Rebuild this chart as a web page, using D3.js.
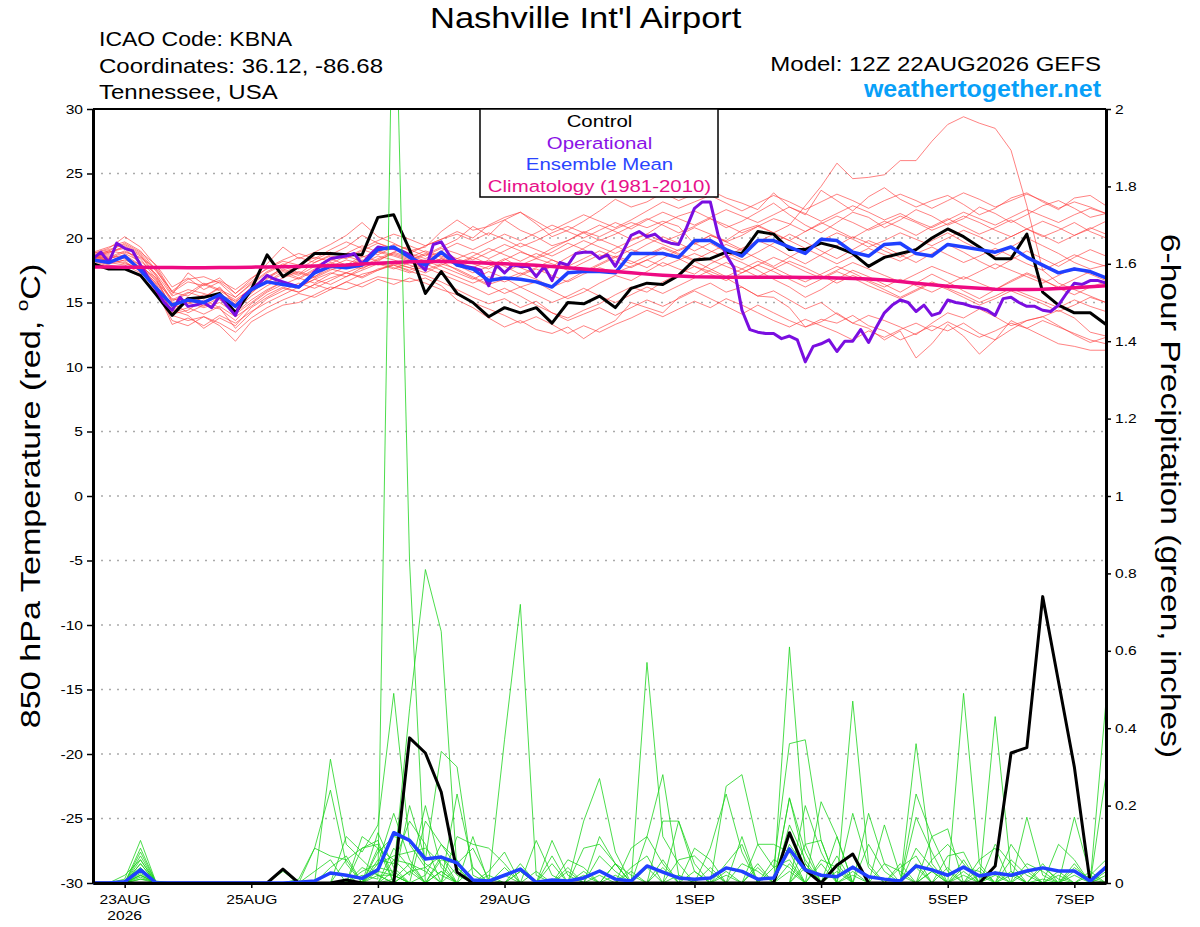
<!DOCTYPE html>
<html lang="en">
<head>
<meta charset="utf-8" />
<title>Nashville Int'l Airport - GEFS</title>
<script src="https://cdn.jsdelivr.net/npm/d3@7"></script>
<style>
  body { margin: 0; background: #fff; }
  svg { display: block; font-family: "Liberation Sans", Arial, Helvetica, sans-serif; }
  .member-t { fill: none; stroke: #ff3b3b; stroke-width: 0.8px; stroke-opacity: 0.8; stroke-linejoin: round; }
  .member-p { fill: none; stroke: #1ed41e; stroke-width: 0.8px; stroke-linejoin: round; }
  .control-line { fill: none; stroke: #000; stroke-width: 3px; stroke-linejoin: round; }
  .oper-line { fill: none; stroke: #7a0ee0; stroke-width: 3px; stroke-linejoin: round; }
  .mean-line { fill: none; stroke: #2040ff; stroke-width: 3.5px; stroke-linejoin: round; }
  .clim-line { fill: none; stroke: #ee0a82; stroke-width: 3.5px; stroke-linejoin: round; }
  .grid-line { stroke: #aaa; stroke-width: 1.3px; stroke-dasharray: 2, 6; }
</style>
</head>
<body>
<script>
// ---- data ----
// tick labels
var tempTicks = [-30, -25, -20, -15, -10, -5, 0, 5, 10, 15, 20, 25, 30];
var precipTicks = [0, 0.2, 0.4, 0.6, 0.8, 1, 1.2, 1.4, 1.6, 1.8, 2];
var tickDays = ["2026-08-23", "2026-08-25", "2026-08-27", "2026-08-29",
  "2026-09-01", "2026-09-03", "2026-09-05", "2026-09-07"];
var tickLabels = ["23AUG", "25AUG", "27AUG", "29AUG", "1SEP", "3SEP", "5SEP", "7SEP"];
var legendItems = ["Control", "Operational", "Ensemble Mean", "Climatology (1981-2010)"];

// 6-hourly control, 850 hPa temperature (C)
var controlTemp = [18.0, 17.6, 17.6, 17.1, 15.6, 14.0, 15.3, 15.4, 15.7, 14.2,
  16.0, 18.7, 17.0, 17.8, 18.8, 18.8, 18.7, 18.7, 21.6, 21.8,
  19.1, 15.7, 17.4, 15.7, 15.0, 13.9, 14.6, 14.2, 14.6, 13.4,
  15.0, 14.9, 15.5, 14.6, 16.1, 16.5, 16.4, 17.1, 18.3, 18.4,
  18.9, 18.8, 20.5, 20.3, 19.1, 19.1, 19.6, 19.3, 18.8, 17.8,
  18.5, 18.8, 19.1, 20.0, 20.7, 20.1, 19.3, 18.4, 18.4, 20.3,
  15.8, 14.8, 14.2, 14.2, 13.3];

// 6-hourly ensemble mean temperature
var meanTemp = [18.3, 18.1, 18.6, 17.5, 16.1, 14.8, 15.2, 15.0, 15.6, 14.7,
  16.0, 16.6, 16.4, 16.2, 17.3, 17.8, 17.7, 17.9, 19.1, 19.3,
  18.5, 17.9, 18.9, 17.9, 17.6, 16.7, 16.9, 16.8, 16.6, 16.2,
  17.3, 17.4, 17.4, 17.3, 18.8, 18.8, 18.8, 18.5, 19.8, 19.8,
  19.1, 18.6, 19.8, 19.8, 19.3, 18.8, 19.9, 19.8, 18.9, 18.6,
  19.5, 19.6, 18.8, 18.6, 19.5, 19.3, 19.1, 18.9, 19.3, 18.5,
  17.9, 17.3, 17.6, 17.4, 16.9];

// 6-hourly climatology
var climTemp = [17.75, 17.75, 17.74, 17.73, 17.72, 17.71, 17.7, 17.7, 17.71, 17.72,
  17.74, 17.76, 17.78, 17.8, 17.82, 17.85, 17.9, 17.98, 18.05, 18.1,
  18.15, 18.18, 18.18, 18.15, 18.1, 18.05, 18.0, 17.95, 17.88, 17.8,
  17.7, 17.6, 17.5, 17.4, 17.3, 17.2, 17.12, 17.05, 17.0, 16.98,
  16.96, 16.95, 16.95, 16.95, 16.95, 16.94, 16.93, 16.9, 16.87, 16.83,
  16.75, 16.62, 16.5, 16.38, 16.26, 16.18, 16.1, 16.03, 16.0, 16.0,
  16.02, 16.08, 16.15, 16.22, 16.3];

// 3-hourly operational temperature
var operTemp = [18.4, 18.9, 18.1, 19.6, 19.2, 19.0, 17.9, 16.9, 16.0, 15.0,
  14.4, 15.4, 14.7, 14.8, 15.0, 14.6, 15.5, 14.7, 14.0, 15.5,
  16.0, 16.5, 17.1, 16.8, 16.6, 16.4, 16.2, 16.7, 17.4, 18.0,
  18.4, 18.5, 18.6, 18.8, 18.0, 18.7, 19.3, 19.2, 19.2, 19.0,
  18.7, 18.1, 17.5, 19.5, 19.7, 18.7, 18.1, 17.8, 17.7, 17.5,
  16.3, 17.9, 17.3, 17.9, 17.8, 17.8, 17.0, 17.8, 16.7, 18.1,
  17.9, 18.8, 18.9, 18.9, 18.4, 18.7, 17.8, 19.0, 20.2, 20.5,
  20.1, 20.3, 19.8, 19.6, 19.5, 20.8, 22.3, 22.8, 22.8, 20.2,
  18.7, 17.7, 14.4, 12.9, 12.7, 12.6, 12.6, 12.2, 12.4, 12.1,
  10.4, 11.6, 11.8, 12.1, 11.2, 12.0, 12.0, 12.9, 11.9, 13.1,
  14.2, 14.8, 15.2, 15.0, 14.3, 14.8, 14.0, 14.2, 15.2, 15.0,
  14.9, 14.7, 14.6, 14.4, 14.0, 15.3, 15.4, 15.0, 14.7, 14.7,
  14.4, 14.3, 14.8, 15.7, 16.5, 16.4, 16.7, 16.7, 16.5];

// 6-hourly ensemble members, temperature
var memberTemp = [
  [18.6,18.9,19.3,18.6,17.0, 15.2,15.8,15.4,16.1,15.0,16.2, 17.0,17.6,17.2,18.1,18.6,18.4,19.0,19.6,19.2,18.7,18.2,18.9,
   18.4,18.0,17.6,18.3,18.9,18.5,19.2,19.8,20.5,20.1,20.7,21.2,20.8,21.3,20.9, 19.5,20.2,19.8,20.6,21.0,20.4,21.0,22.5,24.0,25.8,24.6,24.7,24.9,
   26.0,26.0,27.5,28.8,29.4,28.9,28.5,26.8,22.5,17.5,16.5,16.0,15.5,15.0],
  [18.8,19.2,20.1,19.3,17.8, 15.8,16.6,16.3,16.9,15.7,16.8, 18.0,19.3,18.4,18.9,19.5,20.2,21.2,20.1,19.6,19.0,19.3,20.5,
   21.4,20.6,20.9,21.4,22.0,21.1,20.1,20.6,21.3,22.1,23.0,22.4,22.8,23.5,22.9, 23.4,23.7,23.1,22.7,22.2,23.5,22.4,21.8,23.7,22.9,22.1,23.2,23.9,
   23.0,22.4,22.9,23.3,22.6,21.8,22.3,23.1,23.5,22.8,22.2,23.1,23.3,22.5],
  [18.2,17.8,17.6,17.0,15.8, 14.0,13.6,13.9,13.2,12.0,13.5, 14.2,14.8,15.0,15.6,16.2,16.0,16.5,17.0,16.8,16.6,16.9,16.3,
   15.2,14.6,13.8,13.1,13.6,12.9,12.6,13.1,12.2,13.0,13.6,15.0,14.6,14.2,15.4, 16.0,16.5,15.8,16.2,15.5,15.4,14.6,13.1,13.5,14.2,13.4,13.0,12.1,
   12.8,10.7,11.8,13.3,12.4,11.0,12.1,13.6,13.0,12.4,11.8,11.6,11.3,11.3],
  [18.4,18.1,17.9,17.3,16.2, 14.4,14.0,13.0,13.8,13.2,14.6, 15.4,16.1,15.8,16.4,16.9,17.3,17.0,17.6,17.9,17.4,17.1,16.6,
   16.0,15.4,14.9,15.3,14.6,15.1,14.2,13.8,14.4,14.9,15.6,16.2,15.8,16.6,17.2, 17.8,17.4,16.9,16.2,15.5,15.9,15.2,14.5,15.0,14.1,13.4,14.0,13.6,
   13.1,12.5,13.4,14.2,13.8,14.5,13.9,13.2,13.6,13.9,14.4,13.8,12.7,12.4],
  [18.9,19.3,19.7,19.0,17.5, 15.6,17.3,16.4,16.7,16.0,16.9, 17.6,18.2,17.9,18.5,18.2,18.8,19.4,18.9,18.6,18.2,18.7,19.3,
   19.9,20.9,20.2,21.4,20.6,20.1,19.4,19.8,20.4,21.0,20.5,19.9,20.3,21.1,21.7, 22.1,21.5,20.8,21.3,22.0,22.7,21.8,21.0,20.4,21.2,22.0,21.6,20.8,
   21.4,22.2,21.7,21.0,21.5,22.4,21.9,21.2,21.8,22.5,22.9,22.3,21.6,21.9],
  [18.5,18.7,18.4,17.6,16.5, 14.8,15.1,15.6,15.2,14.4,15.5, 16.3,16.9,17.4,17.0,17.8,18.3,18.0,18.6,18.3,17.9,17.5,18.0,
   17.6,17.0,16.4,16.8,17.3,16.8,16.2,16.7,17.4,18.0,18.6,18.2,17.7,18.4,19.1, 19.6,19.0,18.5,19.2,19.8,19.3,18.6,18.0,18.7,19.4,20.1,19.6,19.0,
   18.5,19.2,19.8,20.4,19.7,19.1,18.6,19.3,20.0,19.4,18.8,18.1,17.6,17.9],
  [18.3,18.0,18.3,17.8,16.9, 15.0,14.2,14.8,14.5,13.6,14.9, 15.8,16.4,16.9,16.5,17.2,17.8,18.3,17.9,18.1,17.7,18.2,17.8,
   17.3,16.8,17.4,16.9,16.2,16.6,15.9,15.3,15.8,16.5,17.1,16.7,17.4,18.1,17.6, 17.2,18.0,18.6,18.1,17.5,16.8,16.2,15.4,16.0,16.8,17.5,17.0,16.4,
   15.8,16.5,17.2,16.6,15.9,15.3,16.0,16.7,17.3,16.8,16.1,15.6,16.2,16.6],
  [18.7,19.0,18.8,18.2,17.2, 15.5,16.0,15.7,15.3,14.9,15.8, 16.6,17.2,16.8,17.5,18.0,18.6,18.2,18.9,19.5,19.1,18.6,19.2,
   18.8,18.3,18.9,19.5,19.0,18.4,18.9,19.6,19.1,18.5,19.2,19.8,20.3,19.7,20.2, 20.8,20.3,19.7,20.2,20.9,20.4,19.8,20.5,21.2,20.6,20.0,20.7,21.3,
   20.8,20.2,20.9,21.5,20.9,20.3,20.8,21.4,20.7,20.1,20.6,21.2,20.5,20.0],
  [18.4,18.5,19.0,18.4,16.8, 14.6,14.9,15.4,16.2,14.8,15.7, 16.8,17.8,17.3,16.9,17.5,18.0,17.6,18.3,18.8,18.4,17.8,18.4,
   17.9,17.3,17.8,18.4,17.7,17.2,17.8,18.5,19.2,19.9,19.4,18.8,19.5,20.1,19.6, 19.0,19.6,18.9,18.3,18.9,19.6,20.3,19.7,19.0,18.4,19.1,19.8,19.3,
   18.7,18.1,18.8,19.5,18.9,18.2,17.6,18.3,19.0,18.4,17.8,18.5,19.1,18.6],
  [18.6,18.3,18.1,17.5,16.0, 13.3,13.8,13.2,14.0,13.4,14.3, 15.0,15.6,16.2,16.8,16.4,17.0,17.5,18.0,17.6,18.1,17.7,17.2,
   16.7,16.2,15.6,16.1,15.5,14.8,14.2,13.6,14.1,14.6,14.0,14.6,15.2,14.7,15.3, 15.9,15.3,14.7,14.1,14.8,14.2,13.6,13.1,13.7,13.4,14.0,13.2,12.8,
   12.1,12.6,13.2,12.8,13.4,12.6,12.1,12.9,13.6,13.9,13.2,12.5,11.9,12.3],
  [18.5,18.9,19.2,18.0,16.6, 15.3,15.0,14.6,15.0,14.2,15.2, 16.0,16.6,16.3,17.0,17.6,17.3,17.8,18.4,18.9,18.5,19.0,18.6,
   18.2,17.7,18.3,17.8,17.2,17.7,18.3,17.8,17.3,17.9,18.5,19.1,18.7,19.3,18.8, 18.3,18.9,19.5,19.0,18.4,17.8,18.5,19.2,18.6,18.0,18.6,19.2,18.7,
   18.2,18.8,19.3,18.7,18.1,18.6,19.2,18.6,18.0,17.5,18.1,18.7,18.2,17.8],
  [18.8,19.1,19.5,18.8,17.4, 15.9,16.8,17.0,16.5,15.4,16.4, 17.3,17.9,18.5,18.1,18.7,19.3,20.2,19.6,19.1,18.8,18.4,19.0,
   19.6,19.1,19.7,20.3,19.8,20.4,21.0,20.5,20.0,20.6,21.2,20.7,21.4,22.0,21.5, 21.0,21.6,22.2,21.7,21.2,21.8,22.4,21.9,21.3,21.9,22.5,22.0,21.4,
   21.9,21.3,20.8,21.4,22.0,21.5,21.0,21.6,22.2,21.7,21.2,21.8,22.3,21.9],
  [18.2,18.4,18.7,17.9,16.4, 14.2,14.6,14.1,14.7,13.9,14.7, 15.6,16.2,15.8,16.4,16.0,16.6,17.2,17.5,17.9,17.5,18.0,17.5,
   17.0,16.5,17.0,16.6,17.1,17.6,17.1,16.6,17.2,17.7,17.3,17.8,18.3,17.8,18.3, 18.8,18.3,17.8,17.3,17.9,18.5,18.0,17.4,16.9,17.5,18.1,17.6,17.1,
   16.6,17.2,17.8,17.3,16.8,17.4,18.0,17.5,17.0,16.5,17.1,17.7,17.2,16.7],
  [18.6,18.2,18.5,17.9,16.7, 14.6,15.4,14.9,15.6,15.1,15.9, 16.6,17.4,16.9,17.6,18.1,17.7,18.5,19.0,18.7,18.3,18.8,18.2,
   17.5,16.9,16.3,15.7,16.2,15.6,15.0,15.5,16.1,15.5,15.0,15.6,16.2,15.7,16.3, 16.9,17.5,18.1,17.6,17.0,17.6,18.2,17.7,17.1,16.5,17.1,16.6,16.0,
   15.4,16.0,16.6,16.1,15.6,15.0,15.5,16.1,15.6,15.1,14.6,15.2,14.7,14.3],
  [18.4,18.6,18.2,17.4,16.1, 14.1,14.4,15.2,14.6,13.0,14.2, 15.3,15.9,16.5,16.1,16.7,17.3,16.9,17.5,18.0,17.7,17.3,17.9,
   18.4,18.9,18.4,19.0,19.6,19.1,18.6,19.2,19.8,19.3,18.8,19.4,20.0,19.5,19.0, 19.6,20.2,19.7,19.1,19.7,20.3,19.8,19.2,19.8,20.4,19.9,19.3,19.8,
   20.4,19.9,19.4,20.0,20.6,20.1,19.5,20.1,20.7,20.2,19.6,20.2,20.8,20.3],
  [18.7,18.4,18.9,18.5,17.6, 15.8,15.5,16.4,15.9,15.2,16.1, 16.9,17.5,17.1,17.8,18.4,17.9,18.6,18.2,18.9,19.4,18.9,18.5,
   18.0,18.6,19.2,18.7,18.2,18.8,18.3,17.8,18.4,19.0,18.5,18.0,18.6,19.2,18.7, 18.2,17.6,17.0,17.6,18.2,17.7,17.1,16.6,17.2,17.8,17.3,16.7,16.2,
   16.8,16.3,15.8,16.4,17.0,16.5,16.0,16.6,17.2,16.7,16.2,16.8,17.4,16.9],
  [18.3,17.9,17.7,17.1,15.9, 13.6,13.2,13.9,13.4,12.7,13.8, 14.6,15.2,15.7,15.4,16.0,16.6,16.2,16.8,16.4,16.9,16.5,16.0,
   15.6,15.0,14.5,14.0,13.4,13.9,13.3,12.6,13.2,12.7,13.3,13.8,14.4,13.9,14.5, 15.1,14.6,15.3,14.8,14.2,13.6,13.1,13.7,13.2,12.7,12.1,12.8,12.3,
   12.9,13.4,12.8,13.5,12.9,12.3,12.8,13.4,13.0,13.6,13.1,12.6,12.1,11.8],
  [18.5,18.8,19.4,18.7,17.1, 15.1,15.7,16.5,16.0,15.4,16.5, 17.4,18.0,17.6,18.3,18.9,18.5,19.1,18.7,19.3,18.8,19.4,19.9,
   20.3,19.8,20.4,19.9,19.3,19.8,20.4,20.9,20.4,19.8,20.3,20.9,21.5,21.0,20.4, 20.9,21.5,21.0,20.4,20.9,21.5,21.1,20.5,21.1,21.7,21.2,20.6,21.1,
   21.7,21.2,20.6,21.1,21.7,21.2,20.6,20.1,20.7,21.3,20.8,20.2,20.7,21.3],
  [18.4,18.3,18.0,17.7,16.3, 14.3,15.2,14.7,15.4,14.1,15.0, 15.9,16.6,16.2,16.8,17.3,17.0,17.7,18.1,17.7,17.3,17.9,18.4,
   17.9,18.5,18.0,17.4,17.9,18.4,18.0,17.5,18.1,18.7,18.2,17.7,18.3,18.9,18.4, 17.8,17.2,16.7,17.3,17.9,17.4,16.8,16.2,16.8,17.4,16.9,16.3,15.8,
   15.3,15.9,16.5,16.0,15.4,14.8,15.3,15.9,15.4,14.9,14.3,14.8,15.4,15.0],
  [18.6,19.0,19.6,18.9,17.9, 16.2,16.9,16.0,16.6,15.7,16.6, 17.7,18.3,18.8,18.4,19.1,19.7,19.2,19.8,20.3,19.9,19.4,19.9,
   20.5,20.0,21.0,21.6,22.0,21.3,20.6,21.2,21.8,21.3,20.8,21.4,22.1,22.8,22.3, 22.8,23.3,22.7,22.1,22.7,23.3,22.8,22.2,22.8,23.4,22.9,22.3,22.9,
   23.4,22.9,22.3,22.9,23.5,23.0,22.4,22.9,23.4,22.9,22.3,22.8,22.4,21.9]
];

// 6-hourly precipitation (inches)
var controlPrecip = [0, 0, 0, 0, 0, 0, 0, 0, 0, 0,
  0, 0, 0.036, 0, 0, 0, 0.008, 0, 0, 0,
  0.375, 0.336, 0.235, 0.028, 0, 0, 0, 0, 0, 0,
  0, 0, 0, 0, 0, 0, 0, 0, 0, 0,
  0, 0, 0, 0, 0.13, 0.034, 0, 0.046, 0.075, 0,
  0, 0, 0, 0, 0, 0, 0, 0.044, 0.336, 0.35,
  0.74, 0.52, 0.30, 0, 0];

var meanPrecip = [0, 0, 0.003, 0.034, 0, 0, 0, 0, 0, 0,
  0, 0, 0, 0.002, 0.005, 0.026, 0.02, 0.012, 0.034, 0.13,
  0.11, 0.062, 0.067, 0.052, 0.008, 0.005, 0.02, 0.036, 0.002, 0.008,
  0.005, 0.013, 0.031, 0.01, 0.005, 0.044, 0.028, 0.013, 0.01, 0.013,
  0.039, 0.03, 0.01, 0.013, 0.088, 0.034, 0.02, 0.016, 0.041, 0.016,
  0.01, 0.005, 0.044, 0.034, 0.02, 0.041, 0.018, 0.026, 0.02, 0.031,
  0.039, 0.031, 0.031, 0.005, 0.041];

var memberPrecip = [
  [0,0,0,0.05,0,0,0,0,0,0, 0,0,0,0,0,0,0,0.02,0.01,2.5, 0.83,0,0,0,0,0,0,0.03,0,0, 0,0,0,0.05,0.02,0,0,0,0,0,
   0.02,0,0,0,0.05,0,0,0.03,0,0, 0,0,0.04,0,0,0.02,0,0,0,0, 0.01,0,0,0,0.02],
  [0,0,0.01,0.11,0,0,0,0,0,0, 0,0,0.03,0,0,0.32,0.1,0.06,0.02,0, 0,0,0.03,0,0,0,0.02,0,0,0, 0,0,0.12,0.05,0,0,0,0,0,0,
   0,0.12,0,0,0.22,0.08,0,0,0,0.18, 0.05,0,0,0,0,0.06,0,0.03,0,0, 0,0,0.02,0,0],
  [0,0,0,0.09,0,0,0,0,0,0, 0,0,0,0,0.09,0.24,0.05,0,0,0.03, 0.45,0.81,0.65,0.03,0,0,0,0,0,0.11, 0.02,0,0,0,0,0,0,0.16,0.05,0,
   0,0,0,0,0,0,0.21,0.12,0,0, 0,0,0,0.12,0.03,0,0,0,0,0.17, 0.02,0,0,0,0],
  [0,0,0,0.08,0,0,0,0,0,0, 0,0,0,0,0,0,0.12,0.08,0.15,0.49, 0.1,0.04,0,0,0,0,0.37,0.72,0.02,0, 0,0,0,0,0,0.57,0.12,0.05,0,0,
   0,0,0,0,0.61,0.1,0,0,0,0, 0,0,0.36,0.05,0,0,0,0.43,0.03,0, 0,0,0,0,0.47],
  [0,0,0,0.07,0,0,0,0,0,0, 0,0,0,0,0,0,0,0.09,0.11,0, 0.2,0.06,0.34,0.3,0.02,0,0,0,0,0, 0,0.16,0.27,0.08,0,0,0,0,0,0,
   0.25,0.28,0.1,0.04,0.36,0.37,0.11,0,0.47,0.05, 0,0,0,0,0,0.49,0.05,0,0,0, 0,0,0.17,0.02,0],
  [0,0,0.02,0.06,0,0,0,0,0,0, 0,0,0,0,0,0,0,0,0.06,0.05, 0.16,0.1,0,0.23,0.04,0,0,0,0,0, 0.04,0,0,0,0,0.12,0.28,0.02,0,0,
   0,0,0,0,0.22,0.05,0,0.12,0,0, 0,0,0.23,0.12,0.14,0,0,0,0,0, 0,0.03,0,0,0.28],
  [0,0,0,0.05,0,0,0,0,0,0, 0,0,0,0,0,0.04,0.07,0,0.13,0.04, 0,0,0,0.12,0.1,0.09,0.05,0,0,0, 0,0,0,0,0,0,0.16,0.16,0.03,0,
   0,0,0,0,0,0.1,0.11,0,0,0, 0.15,0.02,0,0,0,0,0,0,0.06,0.02, 0,0,0,0,0],
  [0,0,0,0.04,0,0,0,0,0,0, 0,0,0,0,0,0,0,0.12,0.09,0.06, 0.05,0,0.07,0,0.12,0,0,0,0,0, 0,0.09,0.1,0.05,0,0,0,0,0,0.09,
   0.23,0.08,0,0,0,0,0,0,0.18,0.04, 0,0,0.17,0.08,0,0,0.04,0,0,0, 0,0.1,0.06,0,0],
  [0,0,0,0.035,0,0,0,0,0,0, 0,0,0,0,0,0,0.06,0.09,0.1,0.02, 0,0,0,0,0,0.03,0.08,0,0.11,0.02, 0,0,0,0,0.09,0.12,0.05,0,0,0,
   0,0,0.1,0.1,0.08,0,0,0.07,0,0, 0,0,0,0,0.07,0.08,0,0,0.1,0.04, 0,0,0,0,0],
  [0,0,0,0.03,0,0,0,0,0,0, 0,0,0,0,0,0,0,0,0.08,0.12, 0.11,0.05,0.02,0,0,0,0,0,0,0, 0.06,0.04,0,0,0,0,0,0,0.09,0.06,
   0,0,0,0,0,0.2,0.08,0,0,0, 0,0.04,0.07,0,0,0,0,0.1,0.05,0, 0,0,0,0.02,0.06],
  [0,0,0,0.025,0,0,0,0,0,0, 0,0,0,0,0.03,0.06,0,0,0,0.09, 0.04,0,0.06,0.05,0.09,0.01,0,0,0,0, 0,0,0.07,0.03,0,0,0,0,0,0,
   0.05,0.1,0,0,0.15,0.06,0,0,0,0.1, 0.03,0,0,0,0,0,0.06,0.09,0,0, 0,0,0.05,0,0],
  [0,0,0,0.02,0,0,0,0,0,0, 0,0,0,0,0,0,0,0,0.04,0.03, 0,0.16,0.1,0.04,0,0,0,0.05,0,0.07, 0,0,0,0,0.04,0.07,0,0,0,0,
   0,0,0.05,0,0.1,0.04,0,0,0,0, 0,0,0,0.06,0.1,0.05,0,0,0,0, 0.04,0.01,0,0,0],
  [0,0,0,0.02,0,0,0,0,0,0, 0,0,0,0,0,0,0,0.03,0.05,0.07, 0.08,0.09,0.05,0,0,0,0,0,0.03,0, 0,0,0,0.05,0,0,0,0.06,0.07,0.03,
   0,0,0,0,0,0,0.06,0.04,0,0, 0,0,0.09,0.04,0,0,0,0,0,0.05, 0.03,0,0,0,0],
  [0,0,0,0.015,0,0,0,0,0,0, 0,0,0,0,0,0,0,0,0.02,0, 0.03,0.04,0.07,0.02,0,0,0,0,0,0, 0,0.03,0,0,0,0,0.06,0,0,0,
   0,0,0,0.04,0.06,0,0,0,0.03,0, 0,0,0,0,0,0.04,0.03,0,0,0, 0,0,0.04,0.01,0],
  [0,0,0,0.01,0.005,0,0,0,0,0, 0,0,0,0,0,0,0,0,0.03,0.02, 0,0.02,0.1,0.06,0,0,0,0,0,0, 0.03,0,0,0,0,0.04,0,0,0,0,
   0,0.05,0.03,0,0,0.04,0,0,0,0, 0.05,0.03,0,0,0,0,0,0,0.02,0, 0,0,0,0,0.03],
  [0,0,0,0.01,0,0,0,0,0,0, 0,0,0,0,0,0,0,0,0,0.01, 0.05,0.03,0,0,0,0,0,0.03,0,0, 0,0,0.02,0,0,0,0,0,0,0.04,
   0,0,0,0,0.03,0,0.05,0,0,0, 0,0,0,0.03,0,0,0,0.02,0,0, 0,0.02,0,0,0],
  [0,0,0.005,0.04,0,0,0,0,0,0, 0,0,0,0,0,0,0,0.04,0.02,0.02, 0,0,0,0.04,0,0,0,0,0,0, 0,0,0,0,0.03,0,0,0,0,0,
   0.03,0,0,0,0,0,0,0.05,0,0, 0,0,0,0,0.04,0,0,0,0,0.03, 0,0,0,0,0],
  [0,0,0,0.06,0,0,0,0,0,0, 0,0,0,0.01,0.09,0.07,0.06,0,0.09,0, 0.03,0,0,0,0.04,0,0,0,0,0.05, 0,0,0,0,0,0,0.04,0,0,0,
   0,0,0,0.06,0.04,0,0,0,0,0, 0,0.05,0,0,0,0.03,0,0,0,0, 0,0,0,0.03,0],
  [0,0,0,0.03,0,0,0,0,0,0, 0,0,0,0,0,0,0,0,0.05,0.18, 0.06,0,0.03,0,0,0,0.04,0,0,0, 0,0,0,0.02,0,0,0,0,0.03,0,
   0,0,0,0,0,0.05,0,0,0,0, 0,0,0.05,0,0,0,0.02,0,0,0, 0.05,0,0,0,0],
  [0,0,0,0.02,0,0,0,0,0,0, 0,0,0,0,0,0,0,0,0,0.06, 0.02,0.2,0.04,0,0,0.02,0,0,0,0, 0,0.02,0,0,0,0,0,0.02,0,0,
   0,0,0.04,0,0,0,0,0,0.02,0, 0,0,0,0.03,0,0,0,0,0.03,0, 0,0,0.03,0,0]
];

// ---- layout ----
var w = 1200;
var h = 927;
var plot = { left: 93, right: 1106, top: 109, bottom: 883 };
var FONT = "'Liberation Sans', Arial, Helvetica, sans-serif";
var SX = 1.2;   // the original lettering is drawn a bit wide

var runStart = Date.UTC(2026, 7, 22, 12);
var runEnd = Date.UTC(2026, 8, 7, 12);
var HOUR = 3600 * 1000;

var svg = d3.select("body").append("svg")
  .attr("width", w)
  .attr("height", h);

var xScale = d3.scaleUtc()
  .domain([new Date(runStart), new Date(runEnd)])
  .range([plot.left, plot.right]);

var yTemp = d3.scaleLinear()
  .domain([-30, 30])
  .range([plot.bottom, plot.top]);

var yPrecip = d3.scaleLinear()
  .domain([0, 2])
  .range([plot.bottom, plot.top]);

function sixHourly(i) { return xScale(new Date(runStart + i * 6 * HOUR)); }
function threeHourly(i) { return xScale(new Date(runStart + i * 3 * HOUR)); }

var tempLine = d3.line().x(function(d, i) { return sixHourly(i); }).y(function(d) { return yTemp(d); });
var operLine = d3.line().x(function(d, i) { return threeHourly(i); }).y(function(d) { return yTemp(d); });
var precipLine = d3.line().x(function(d, i) { return sixHourly(i); }).y(function(d) { return yPrecip(d); });

function addText(g, str, x, y, size, anchor, color, sx, weight) {
  return g.append("text")
    .attr("transform", "translate(" + x + "," + y + ") scale(" + sx + ",1)")
    .attr("text-anchor", anchor)
    .attr("font-size", size)
    .attr("font-weight", weight || "normal")
    .attr("fill", color)
    .text(str);
}

// clip for data
svg.append("clipPath").attr("id", "plot-clip")
  .append("rect")
  .attr("x", plot.left)
  .attr("y", plot.top)
  .attr("width", plot.right - plot.left)
  .attr("height", plot.bottom - plot.top + 2);

// dotted grid at temperature ticks
svg.append("g").selectAll("line")
  .data(tempTicks.filter(function(d) { return d > -30 && d < 30; }))
  .enter().append("line")
  .attr("class", "grid-line")
  .attr("x1", plot.left)
  .attr("x2", plot.right)
  .attr("y1", function(d) { return yTemp(d); })
  .attr("y2", function(d) { return yTemp(d); });

var dataG = svg.append("g").attr("clip-path", "url(#plot-clip)");

dataG.selectAll(".member-t")
  .data(memberTemp)
  .enter().append("path")
  .attr("class", "member-t")
  .attr("d", tempLine);

dataG.append("path").datum(controlTemp).attr("class", "control-line").attr("d", tempLine);
dataG.append("path").datum(operTemp).attr("class", "oper-line").attr("d", operLine);
dataG.append("path").datum(meanTemp).attr("class", "mean-line").attr("d", tempLine);
dataG.append("path").datum(climTemp).attr("class", "clim-line").attr("d", tempLine);

dataG.selectAll(".member-p")
  .data(memberPrecip)
  .enter().append("path")
  .attr("class", "member-p")
  .attr("d", precipLine);

dataG.append("path").datum(controlPrecip).attr("class", "control-line").attr("d", precipLine);
dataG.append("path").datum(meanPrecip).attr("class", "mean-line").attr("d", precipLine);

// ---- axes ----
svg.append("line")
  .attr("x1", plot.left).attr("x2", plot.right)
  .attr("y1", plot.top).attr("y2", plot.top)
  .attr("stroke", "#000").attr("stroke-width", 2);

var yAxisLeft = d3.axisLeft(yTemp)
  .tickValues(tempTicks)
  .tickFormat(function(d) { return String(d); })
  .tickSize(6).tickPadding(4).tickSizeOuter(0);

svg.append("g")
  .attr("transform", "translate(" + plot.left + ",0)")
  .call(yAxisLeft)
  .attr("font-family", FONT).attr("font-size", 13)
  .call(function(g) {
    g.select(".domain").attr("stroke-width", 3);
    g.selectAll(".tick line").attr("stroke-width", 1.5);
    g.selectAll(".tick text").attr("x", -10 / SX).attr("transform", "scale(" + SX + ",1)");
  });

var yAxisRight = d3.axisRight(yPrecip)
  .tickValues(precipTicks)
  .tickFormat(function(d) { return String(+d.toFixed(1)); })
  .tickSize(5).tickPadding(4).tickSizeOuter(0);

svg.append("g")
  .attr("transform", "translate(" + plot.right + ",0)")
  .call(yAxisRight)
  .attr("font-family", FONT).attr("font-size", 13)
  .call(function(g) {
    g.select(".domain").attr("stroke-width", 3);
    g.selectAll(".tick line").attr("stroke-width", 1.5);
    g.selectAll(".tick text").attr("x", 9 / SX).attr("transform", "scale(" + SX + ",1)");
  });

var tickDates = tickDays.map(function(s) { return new Date(s + "T00:00:00Z"); });

var xAxis = d3.axisBottom(xScale)
  .tickValues(tickDates)
  .tickFormat(function(d, i) { return tickLabels[i]; })
  .tickSize(5).tickPadding(7).tickSizeOuter(0);

svg.append("g")
  .attr("transform", "translate(0," + plot.bottom + ")")
  .call(xAxis)
  .attr("font-family", FONT).attr("font-size", 13)
  .call(function(g) {
    g.select(".domain").attr("stroke-width", 3);
    g.selectAll(".tick line").attr("stroke-width", 1.5);
    g.selectAll(".tick text").attr("transform", "scale(" + SX + ",1)");
  });

addText(svg, "2026", xScale(tickDates[0]), 920, 13, "middle", "#000", SX);

// ---- titles ----
addText(svg, "Nashville Int'l Airport", 430, 28, 29, "start", "#000", 1.19);
addText(svg, "ICAO Code: KBNA", 99, 46, 20, "start", "#000", 1.15);
addText(svg, "Coordinates: 36.12, -86.68", 99, 73, 20, "start", "#000", SX);
addText(svg, "Tennessee, USA", 99, 99, 20, "start", "#000", SX);
addText(svg, "Model: 12Z 22AUG2026 GEFS", 1101, 71, 20, "end", "#000", SX);
addText(svg, "weathertogether.net", 1101, 97, 24, "end", "#08a0f8", 1.04, "bold");

// axis titles
var leftTitle = svg.append("text")
  .attr("transform", "translate(40," + ((plot.top + plot.bottom) / 2) + ") rotate(-90) scale(1.22,1)")
  .attr("text-anchor", "middle")
  .attr("font-size", 28)
  .attr("fill", "#000");
leftTitle.append("tspan").text("850 hPa Temperature (red, ");
leftTitle.append("tspan").attr("font-size", 17).attr("dy", -12).text("o");
leftTitle.append("tspan").attr("dy", 12).text("C)");

svg.append("text")
  .attr("transform", "translate(1161," + ((plot.top + plot.bottom) / 2) + ") rotate(90) scale(1.2,1)")
  .attr("text-anchor", "middle")
  .attr("font-size", 28)
  .attr("fill", "#000")
  .text("6-hour Precipitation (green, inches)");

// ---- legend ----
var legendColors = ["#000", "#8a12e6", "#2a44ff", "#e8108a"];
var legend = svg.append("g");
legend.append("rect")
  .attr("x", 480).attr("y", plot.top)
  .attr("width", 238).attr("height", 88)
  .attr("fill", "#fff")
  .attr("stroke", "#000")
  .attr("stroke-width", 1.5);

legendItems.forEach(function(name, i) {
  addText(legend, name, 599.5, 127 + i * 21.5, 17, "middle", legendColors[i], SX);
});
</script>
</body>
</html>
